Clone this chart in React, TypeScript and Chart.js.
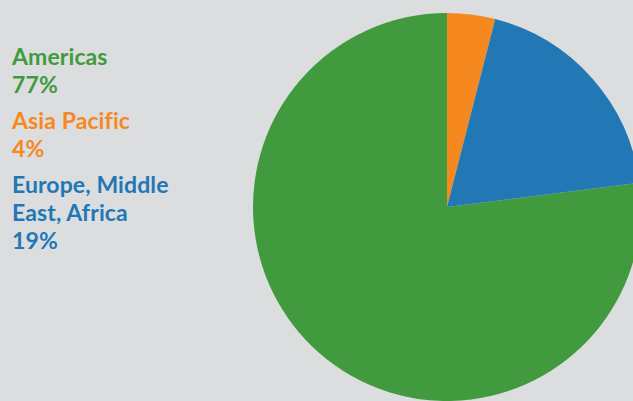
import React, { useEffect, useRef } from "react";
import { Chart, registerables } from "chart.js";

Chart.register(...registerables);

const categories = ["Americas", "Asia Pacific", "Europe, Middle East, Africa"];
const legendLines = [["Americas"], ["Asia Pacific"], ["Europe, Middle", "East, Africa"]];
const values = [77, 4, 19];
const colors = ["#419a3e", "#f5881f", "#2277b5"];

export default function App() {
  const ref = useRef<HTMLCanvasElement | null>(null);

  useEffect(() => {
    if (!ref.current) return;
    const total = values.reduce((a, b) => a + b, 0);
    const chart = new Chart(ref.current, {
      type: "pie",
      data: {
        labels: categories,
        datasets: [
          {
            data: values,
            backgroundColor: colors,
            borderWidth: 0,
          },
        ],
      },
      options: {
        responsive: false,
        animation: false,
        rotation: 360 * (1 - values[0] / total),
        layout: { padding: 0 },
        plugins: {
          legend: { display: false },
          tooltip: { enabled: false },
        },
      },
    });
    return () => chart.destroy();
  }, []);

  return (
    <div
      style={{
        position: "fixed",
        left: 0,
        top: 0,
        width: 633,
        height: 401,
        overflow: "hidden",
        background: "#dcdddf",
      }}
    >
      <div
        style={{
          position: "absolute",
          left: 12,
          top: 42,
          fontFamily: "Lato, sans-serif",
          fontWeight: 700,
          fontSize: 23,
          lineHeight: "28px",
          letterSpacing: "0.1px",
          fontVariantLigatures: "none",
        }}
      >
        {categories.map((c, i) => (
          <div key={c} style={{ color: colors[i], marginBottom: 8 }}>
            {legendLines[i].map((l) => (
              <div key={l}>{l}</div>
            ))}
            <div>{values[i]}%</div>
          </div>
        ))}
      </div>
      <canvas
        ref={ref}
        width={388}
        height={388}
        style={{ position: "absolute", left: 253, top: 13, width: 388, height: 388 }}
      />
    </div>
  );
}
